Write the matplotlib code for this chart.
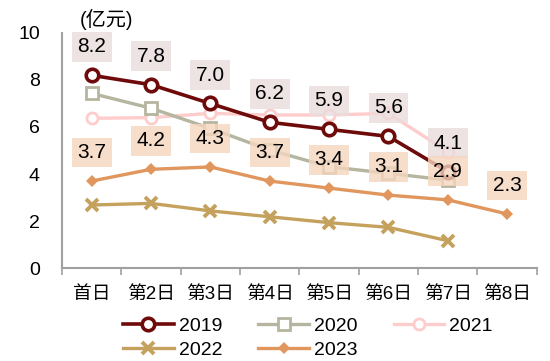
import matplotlib
matplotlib.use("Agg")
import matplotlib.pyplot as plt

plt.rcParams['font.family'] = ['Liberation Sans', 'Noto Sans CJK SC', 'DejaVu Sans']

categories = ["首日", "第2日", "第3日", "第4日", "第5日", "第6日", "第7日", "第8日"]
s2019 = [8.2, 7.8, 7.0, 6.2, 5.9, 5.6, 4.1]
s2020 = [7.43, 6.8, 5.94, 5.02, 4.31, 4.03, 3.74]
s2021 = [6.37, 6.4, 6.58, 6.51, 6.51, 6.58, 4.95]
s2022 = [2.68, 2.75, 2.43, 2.18, 1.93, 1.73, 1.16]
s2023 = [3.7, 4.2, 4.3, 3.7, 3.4, 3.1, 2.9, 2.3]
labels2019 = ["8.2", "7.8", "7.0", "6.2", "5.9", "5.6", "4.1"]
labels2023 = ["3.7", "4.2", "4.3", "3.7", "3.4", "3.1", "2.9", "2.3"]
yticks = [0, 2, 4, 6, 8, 10]

fig = plt.figure(figsize=(5.5, 3.61), dpi=100)
ax = fig.add_axes([0.1127, 0.2576, 0.8633, 0.651])

x = list(range(len(categories)))

ax.plot(x[:len(s2022)], s2022, color='#C4A25E', lw=2.4, marker='x', ms=9, mew=2.8, zorder=3, label='2022')
ax.plot(x[:len(s2023)], s2023, color='#E0965C', lw=2.4, marker='D', ms=6.5, mew=0, zorder=3, label='2023')
ax.plot(x[:len(s2021)], s2021, color='#FFCCCC', lw=2.4, marker='o', ms=8, mfc='white', mew=2, zorder=4, label='2021')
ax.plot(x[:len(s2020)], s2020, color='#B5B5A0', lw=2.4, marker='s', ms=8, mfc='white', mew=2, zorder=4, label='2020')
ax.plot(x[:len(s2019)], s2019, color='#6E0A0A', lw=2.6, marker='o', ms=9, mfc='white', mew=2.6, zorder=5, label='2019')

for xi, v, t in zip(x, s2019, labels2019):
    ax.annotate(t, (xi, v), xytext=(0, 20.5), textcoords='offset points', ha='center', va='center',
                fontsize=15, zorder=10,
                bbox=dict(boxstyle='square,pad=0.26', fc='#EADCDC', ec='none', alpha=0.8))
for xi, v, t in zip(x, s2023, labels2023):
    ax.annotate(t, (xi, v), xytext=(0, 20.5), textcoords='offset points', ha='center', va='center',
                fontsize=15, zorder=10,
                bbox=dict(boxstyle='square,pad=0.26', fc='#F5D6BF', ec='none', alpha=0.8))

ax.set_xlim(-0.5, len(categories) - 0.5)
ax.set_ylim(0, 10)
ax.set_yticks(yticks)
ax.set_yticklabels([str(v) for v in yticks], fontsize=14)
ax.tick_params(axis='y', length=0, pad=16)
ax.set_xticks(x)
ax.set_xticklabels(categories, fontsize=13.5)
ax.set_xticks([i - 0.5 for i in range(len(categories) + 1)], minor=True)
ax.tick_params(axis='x', which='major', length=0, pad=13)
ax.tick_params(axis='x', which='minor', length=5, width=1.2, color='#A0A0A0', direction='out')
for s in ['top', 'right']:
    ax.spines[s].set_visible(False)
for s in ['left', 'bottom']:
    ax.spines[s].set_color('#A0A0A0')
    ax.spines[s].set_linewidth(1.5)

fig.text(0.1455, 0.945, "(亿元)", fontsize=14.5, ha='left', va='center')

h, l = ax.get_legend_handles_labels()
hd = {lab: hh for hh, lab in zip(h, l)}
order = ['2019', '2022', '2020', '2023', '2021']
leg = fig.legend([hd[o] for o in order], order, loc='upper left', bbox_to_anchor=(0.2236, 0.122),
                 ncol=3, frameon=False, fontsize=14, handlelength=2.6, handletextpad=0.27,
                 columnspacing=1.85, labelspacing=0.35, borderpad=0, borderaxespad=0)

fig.savefig("out.png", dpi=100)
